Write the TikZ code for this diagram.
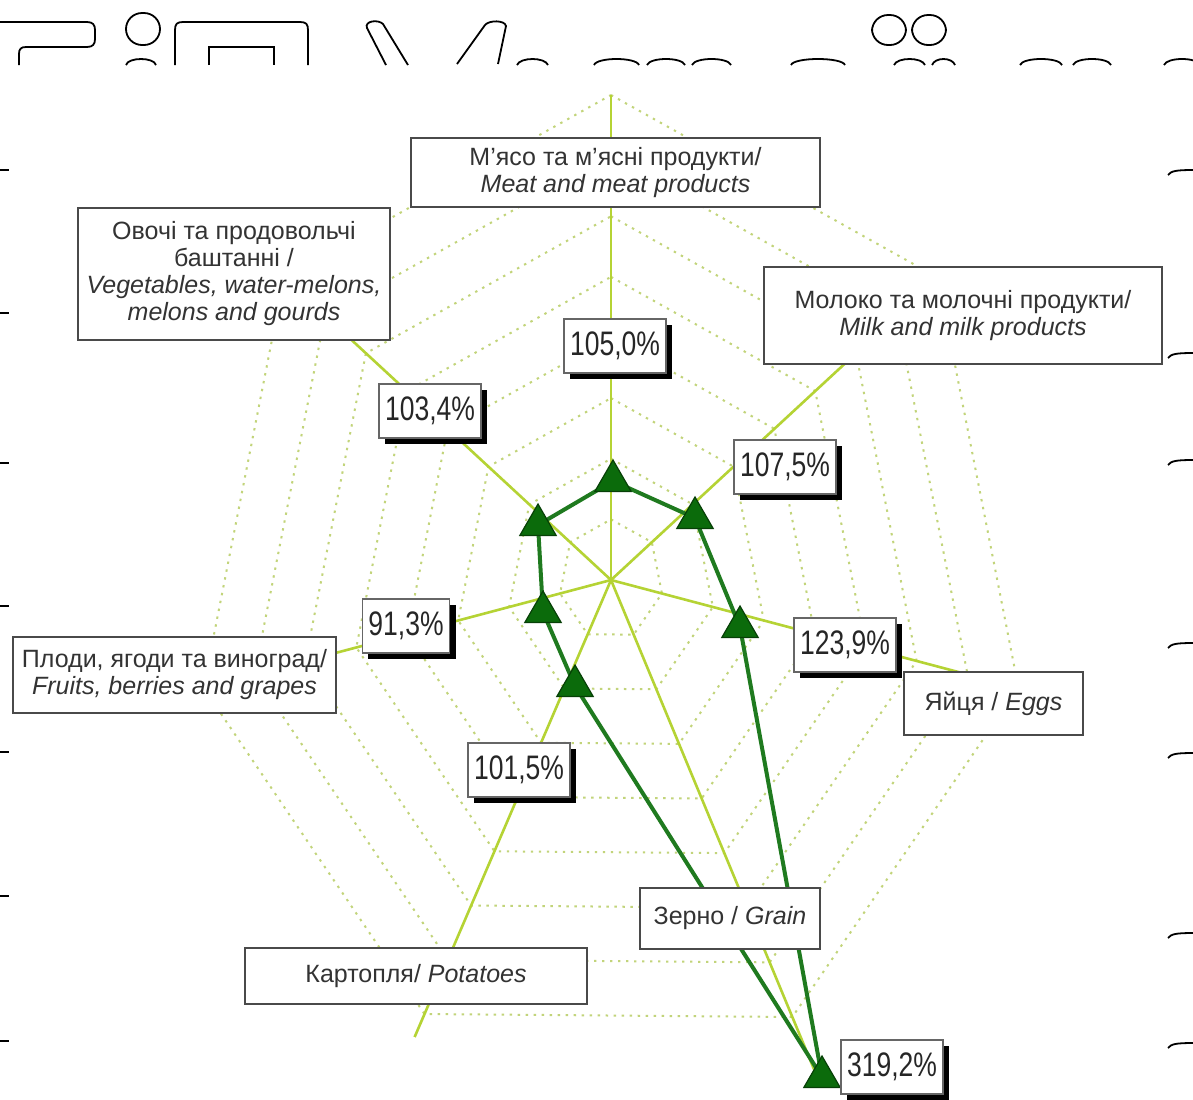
\documentclass[tikz,border=0pt]{standalone}
\usepackage{fontspec}
\setmainfont{Liberation Sans}
\newfontfamily\pctfont[FakeStretch=0.78]{Liberation Sans}
\usetikzlibrary{shapes.geometric,shadows}
\definecolor{axisgreen}{HTML}{B5D334}
\definecolor{ringgreen}{HTML}{C2D47A}
\definecolor{datagreen}{HTML}{1F7A1F}
\definecolor{markgreen}{HTML}{0B6B0B}
\definecolor{boxgray}{HTML}{4A4A4A}
\definecolor{textgray}{HTML}{333333}
\tikzset{
  ring/.style={ringgreen, line width=1pt, dash pattern=on 1.2pt off 2.8pt},
  axisline/.style={axisgreen, line width=1.3pt},
  dataline/.style={datagreen, line width=2pt, line join=round},
  marker/.style={regular polygon, regular polygon sides=3, minimum size=21pt, inner sep=0pt,
    fill=markgreen, draw=markgreen!60!black, line width=0.6pt},
  catbox/.style={draw=boxgray, line width=1.1pt, fill=white, align=center, text=textgray,
    font=\fontsize{12.5}{13.5}\selectfont, inner sep=0pt},
  pctbox/.style={draw=gray!80!black, line width=0.7pt, fill=white, text=black!85,
    font=\pctfont\fontsize{17}{17}\selectfont, inner xsep=3pt, inner ysep=0pt, minimum height=27pt,
    drop shadow={shadow xshift=3pt, shadow yshift=-3pt, fill=black, opacity=1}},
  art/.style={black, line width=0.9pt},
}
\begin{document}
\begin{tikzpicture}[x=0.5pt,y=-0.5pt]
\useasboundingbox (0,0) rectangle (1193,1099);
\fill[white] (0,0) rectangle (1193,1099);

% ---------- radar grid and axes ----------
\begin{scope}[shift={(611,580)}, x=209pt, y=242.5pt]
  \foreach \k in {1,...,8}{
    \pgfmathsetmacro\rr{\k/8}
    \draw[ring] (90:\rr) -- (38.57:\rr) -- (-12.86:\rr) -- (-64.29:\rr) -- (-116.5:\rr)
      -- (-167.14:\rr) -- (141.43:\rr) -- cycle;
  }
  \coordinate (C) at (0,0);
  \coordinate (aMeat) at (90:1);
  \coordinate (aMilk) at (38.57:0.9);
  \coordinate (aEggs) at (-12.86:1);
  \coordinate (aGrain) at (-64.29:1.12);
  \coordinate (aPot) at (-116.5:1.053);
  \coordinate (aFruit) at (-167.14:1);
  \coordinate (aVeg) at (141.43:1);
  \foreach \a in {aMeat,aMilk,aEggs,aGrain,aPot,aFruit,aVeg}
    \draw[axisline] (C) -- (\a);
\end{scope}

% ---------- data polygon ----------
\coordinate (pMeat) at (613,481);
\coordinate (pMilk) at (695,518);
\coordinate (pEggs) at (740,627);
\coordinate (pGrain) at (822,1077);
\coordinate (pPot) at (575,686);
\coordinate (pFruit) at (543,612);
\coordinate (pVeg) at (538,525);
\draw[dataline] (pMeat) -- (pMilk) -- (pEggs) -- (pGrain) -- (pPot) -- (pFruit) -- (pVeg) -- cycle;
\foreach \p in {Meat,Milk,Eggs,Grain,Pot,Fruit,Veg}
  \node[marker] (m\p) at (p\p) {};

% ---------- category labels ----------
\node[catbox, minimum width=204.5pt, minimum height=34.5pt] (lMeat) at (615.5,172.5)
  {М’ясо та м’ясні продукти/\\\textit{Meat and meat products}};
\node[catbox, minimum width=156pt, minimum height=66pt] (lVeg) at (234,274)
  {Овочі та продовольчі\\баштанні /\\\textit{Vegetables, water-melons,}\\\textit{melons and gourds}};
\node[catbox, minimum width=199pt, minimum height=48.5pt] (lMilk) at (963,315.5)
  {Молоко та молочні продукти/\\\textit{Milk and milk products}};
\node[catbox, minimum width=161.5pt, minimum height=38pt] (lFruit) at (174.5,675)
  {Плоди, ягоди та виноград/\\\textit{Fruits, berries and grapes}};
\node[catbox, minimum width=89.5pt, minimum height=31.5pt] (lEggs) at (993.5,703.5)
  {Яйця / \textit{Eggs}};
\node[catbox, minimum width=90pt, minimum height=30.5pt] (lGrain) at (730,918.5)
  {Зерно / \textit{Grain}};
\node[catbox, minimum width=171pt, minimum height=28pt] (lPot) at (416,976)
  {Картопля/ \textit{Potatoes}};

% ---------- value labels ----------
\node[pctbox] (vMeat) at (615,346) {105,0\%};
\node[pctbox] (vVeg) at (430,411) {103,4\%};
\node[pctbox] (vMilk) at (785,467) {107,5\%};
\node[pctbox] (vFruit) at (406,626) {91,3\%};
\node[pctbox] (vEggs) at (845,645) {123,9\%};
\node[pctbox] (vPot) at (519,770) {101,5\%};
\node[pctbox] (vGrain) at (892,1067) {319,2\%};

% ---------- cut-off fragments along the top edge ----------
\draw[art] (0,22) -- (87,22) .. controls (93,22) and (95,25) .. (95,30) -- (95,39)
  .. controls (95,44) and (93,47) .. (87,47) -- (26,47) .. controls (21,47) and (19,49) .. (19,54) -- (19,65);
\draw[art, rounded corners=8pt] (126,13) rectangle (160,45);
\draw[art] (126,65) .. controls (128,57) and (154,57) .. (156,65);
\draw[art] (175,65) -- (175,30) .. controls (175,24) and (177,22) .. (183,22) -- (300,22)
  .. controls (306,22) and (308,24) .. (308,30) -- (308,65);
\draw[art] (209,65) -- (209,47) -- (274,47) -- (274,65);
\draw[art] (386,65) -- (367,28) .. controls (364,21) and (378,19) .. (383,24) -- (408,65);
\draw[art] (457,64) -- (485,25) .. controls (489,20) and (505,20) .. (506,26) -- (498,64);
\draw[art, rounded corners=8pt] (872,15) rectangle (906,45);
\draw[art, rounded corners=8pt] (912,15) rectangle (946,45);
\foreach \xa/\xb in {517/548, 594/639, 647/685, 692/731, 791/845, 894/925, 932/955, 1020/1062, 1073/1111, 1164/1200}
  \draw[art] (\xa,65) .. controls (\xa+3,57) and (\xb-3,57) .. (\xb,65);

% ---------- marks along the side edges ----------
\foreach \y in {170,313,463,606,752,896,1041}
  \draw[art] (0,\y) -- (9,\y);
\foreach \y in {172,355,462,645,755,935,1045}
  \draw[art] (1168,\y+3) .. controls (1171,\y-1) and (1176,\y-2) .. (1193,\y-2);
\end{tikzpicture}
\end{document}
